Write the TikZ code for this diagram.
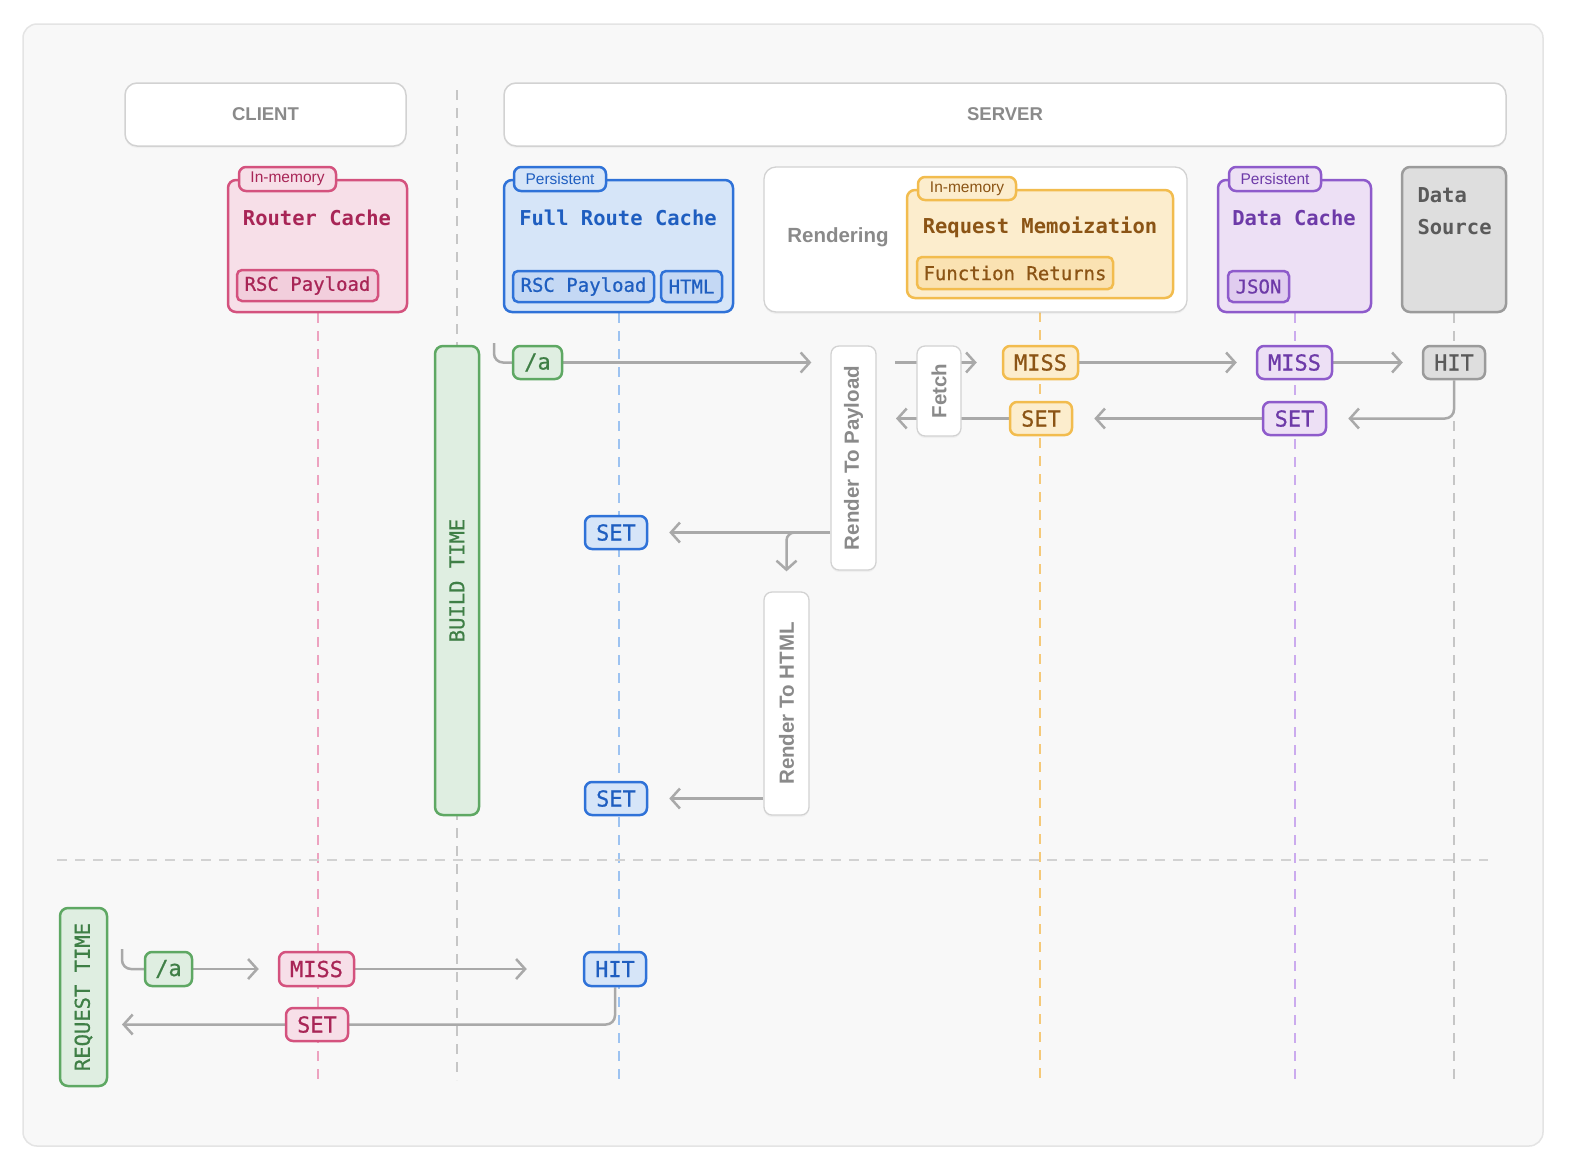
\documentclass[tikz,border=0pt]{standalone}
\usepackage{fontspec}
\setmainfont{Liberation Sans}
\newfontfamily\monof{DejaVu Sans Mono}
\newfontfamily\monom[FakeBold=0.7]{DejaVu Sans Mono}
\usetikzlibrary{arrows.meta,shadows}
\definecolor{pinkB}{HTML}{D4527E}\definecolor{pinkT}{HTML}{A82556}\definecolor{pinkF}{HTML}{F7DFE8}\definecolor{pinkI}{HTML}{F2CEDC}\definecolor{pinkL}{HTML}{EDA3C0}
\definecolor{blueB}{HTML}{2F72D8}\definecolor{blueT}{HTML}{1F5EC0}\definecolor{blueF}{HTML}{D6E5F8}\definecolor{blueI}{HTML}{C4D8F4}\definecolor{blueL}{HTML}{9DC3F1}
\definecolor{orB}{HTML}{F2BC4E}\definecolor{orT}{HTML}{8B5415}\definecolor{orF}{HTML}{FCEDCD}\definecolor{orI}{HTML}{FAE2B2}\definecolor{orL}{HTML}{F5C978}
\definecolor{puB}{HTML}{8E5BCB}\definecolor{puT}{HTML}{6D3AA8}\definecolor{puF}{HTML}{EDE0F5}\definecolor{puI}{HTML}{E0CCEF}\definecolor{puL}{HTML}{CBABEE}
\definecolor{grB}{HTML}{9B9B9B}\definecolor{grT}{HTML}{5A5A5A}\definecolor{grF}{HTML}{DEDEDE}\definecolor{grL}{HTML}{C6C6C6}
\definecolor{gnB}{HTML}{5EA863}\definecolor{gnT}{HTML}{3F7F46}\definecolor{gnF}{HTML}{DFEEE1}
\definecolor{connC}{HTML}{A9A9A9}
\definecolor{panelF}{HTML}{F8F8F8}\definecolor{panelB}{HTML}{E4E4E4}
\definecolor{hdrT}{HTML}{8A8A8A}\definecolor{hdrB}{HTML}{D2D2D2}
\newcommand\mtitle{\monof\bfseries\fontsize{20.5}{24}\selectfont}
\newcommand\minner{\monom\fontsize{19}{22}\selectfont}
\newcommand\mchip{\monom\fontsize{22}{26}\selectfont}
\newcommand\mvert{\monom\fontsize{20.5}{24}\selectfont}
\newcommand\tagf{\fontsize{15.5}{18}\selectfont}
\newcommand\sansb{\bfseries\fontsize{20.5}{24}\selectfont}
\pgfdeclarelayer{bg}\pgfdeclarelayer{conn}\pgfsetlayers{bg,conn,main}
\tikzset{
  cbox/.style={draw=#1B, fill=#1F, line width=2.5pt, rounded corners=8pt, inner sep=0pt},
  ibox/.style={draw=#1B, fill=#1I, line width=2.5pt, rounded corners=5pt, inner sep=0pt, text=#1T, font=\minner, minimum height=31pt},
  tagbox/.style={draw=#1B, fill=#1F, line width=2.5pt, rounded corners=7pt, inner sep=0pt, text=#1T, font=\tagf, minimum height=24pt},
  chip/.style={draw=#1B, fill=#1F, line width=2.5pt, rounded corners=7pt, inner sep=0pt, text=#1T, font=\mchip, minimum height=33pt},
  wbox/.style={draw=hdrB, fill=white, line width=1.3pt, rounded corners=8pt, inner sep=0pt, text=hdrT, font=\sansb,
     drop shadow={shadow xshift=0pt, shadow yshift=-2pt, opacity=0.07}},
  hbox/.style={draw=hdrB, fill=white, line width=1.5pt, rounded corners=12pt, inner sep=0pt, text=hdrT, font=\bfseries\fontsize{18.5}{22}\selectfont,
     drop shadow={shadow xshift=0pt, shadow yshift=-2pt, opacity=0.06}},
  life/.style={draw=#1, line width=2pt, dash pattern=on 10pt off 8pt},
  conn/.style={draw=connC, line width=2.5pt},
  arr/.style={-{Straight Barb[length=9pt,width=20pt]}},
}
\begin{document}
\begin{tikzpicture}[x=1pt,y=-1pt]
\useasboundingbox (0,0) rectangle (1570,1168);
\begin{pgfonlayer}{bg}
\fill[white] (0,0) rectangle (1570,1168);
\draw[fill=panelF, draw=panelB, line width=1.5pt, rounded corners=14pt] (23,24) rectangle (1543,1146);
\end{pgfonlayer}

% headers
\node[hbox, minimum width=281pt, minimum height=63pt] (client) at (265.5,114.5) {CLIENT};
\node[hbox, minimum width=1002pt, minimum height=63pt] (server) at (1005,114.5) {SERVER};

% Router Cache
\node[cbox=pink, minimum width=179pt, minimum height=132pt] (rc) at (317.5,246) {};
\node[tagbox=pink, minimum width=97pt] (rctag) at (287.5,179) {In-memory};
\node[text=pinkT, font=\mtitle] (rctitle) at (317,218) {Router Cache};
\node[ibox=pink, minimum width=141pt] (rcin) at (307.5,285.5) {RSC Payload};

% Full Route Cache
\node[cbox=blue, minimum width=229pt, minimum height=132pt] (frc) at (618.5,246) {};
\node[tagbox=blue, minimum width=92pt] (frctag) at (560,179) {Persistent};
\node[text=blueT, font=\mtitle] (frctitle) at (618,218) {Full Route Cache};
\node[ibox=blue, minimum width=141pt] (frcin1) at (583.5,286.5) {RSC Payload};
\node[ibox=blue, minimum width=61pt] (frcin2) at (691.5,286.5) {HTML};

% Rendering
\node[wbox, minimum width=423pt, minimum height=145pt, rounded corners=12pt] (rend) at (975.5,239.5) {};
\node[text=hdrT, font=\sansb] (rendt) at (838,237) {Rendering};
\node[cbox=or, minimum width=266pt, minimum height=108pt] (rm) at (1040,244) {};
\node[tagbox=or, minimum width=98pt, minimum height=23pt] (rmtag) at (967,188.5) {In-memory};
\node[text=orT, font=\mtitle] (rmtitle) at (1040,227) {Request Memoization};
\node[ibox=or, minimum width=196pt, minimum height=32pt] (rmin) at (1015,273) {Function Returns};

% Data Cache
\node[cbox=pu, minimum width=153pt, minimum height=132pt] (dc) at (1294.5,246) {};
\node[tagbox=pu, minimum width=92pt] (dctag) at (1275,179) {Persistent};
\node[text=puT, font=\mtitle] (dctitle) at (1294,218) {Data Cache};
\node[ibox=pu, minimum width=61pt] (dcin) at (1258.5,286.5) {JSON};

% Data Source
\node[cbox=gr, minimum width=104pt, minimum height=145pt] (ds) at (1454,239.5) {};
\node[text=grT, anchor=west, align=left, font=\monof\bfseries\fontsize{20.5}{32}\selectfont] (dst) at (1414,211) {Data\\Source};

% lifelines
\coordinate (lifeend) at (0,1080);
\begin{pgfonlayer}{bg}
\path[life=pinkL] (rc.south) -- (rc.south |- lifeend);
\path[life=grL] (457,90) -- (457,1080);
\path[life=blueL] (frc.south) -- (frc.south |- lifeend);
\path[life=orL] (1040,312) -- (1040,1080);
\path[life=puL] (dc.south) -- (dc.south |- lifeend);
\path[life=grL] (ds.south) -- (ds.south |- lifeend);
\path[life=hdrB] (57,860) -- (1488,860);
\end{pgfonlayer}

% build / request time
\node[cbox=gn, minimum width=44pt, minimum height=469pt] (bt) at (457,580.5) {};
\node[text=gnT, font=\mvert, rotate=90] (btt) at (457,580.5) {BUILD TIME};
\node[cbox=gn, minimum width=47pt, minimum height=178pt] (rt) at (83.5,997) {};
\node[text=gnT, font=\mvert, rotate=90] (rtt) at (83.5,997) {REQUEST TIME};

% row 1 / 2
\node[chip=gn, minimum width=49pt] (a1) at (537.5,362.5) {/a};
\node[wbox, minimum width=224pt, minimum height=45pt, rotate=90] (rtp) at (853.5,458) {Render To Payload};
\node[wbox, minimum width=90pt, minimum height=44pt, rotate=90] (fetch) at (939,391) {Fetch};
\node[chip=or, minimum width=75pt] (mo) at (1040.5,362.5) {MISS};
\node[chip=pu, minimum width=75pt] (mp) at (1294.5,362.5) {MISS};
\node[chip=gr, minimum width=62pt] (hit) at (1454,362.5) {HIT};
\node[chip=pu, minimum width=63pt] (sp) at (1294.5,418.5) {SET};
\node[chip=or, minimum width=62pt] (so) at (1041,418.5) {SET};
\node[chip=blue, minimum width=62pt] (sb1) at (616,532.5) {SET};
\node[wbox, minimum width=223pt, minimum height=45pt, rotate=90] (rth) at (786.5,703.5) {Render To HTML};
\node[chip=blue, minimum width=62pt] (sb2) at (616,798.5) {SET};

% bottom row
\node[chip=gn, minimum width=47pt, minimum height=34pt] (a2) at (168.5,969) {/a};
\node[chip=pink, minimum width=75pt, minimum height=34pt] (mk) at (316.5,969) {MISS};
\node[chip=blue, minimum width=62pt, minimum height=34pt] (hb) at (615,969) {HIT};
\node[chip=pink, minimum width=62pt] (sk) at (317,1024.5) {SET};

\coordinate (h1) at (494,343);
\coordinate (f1) at (895,362.5);
\coordinate (f2) at (896,418.5);
\coordinate (br) at (804,532.5);
\coordinate (h2) at (122,949);
\coordinate (e2) at (122,1024.5);

\begin{pgfonlayer}{conn}
\draw[conn, rounded corners=9pt] (h1) |- (a1.west);
\draw[conn, arr, shorten >=19pt] (a1.east) -- (a1.east -| rtp.north);
\draw[conn, arr, shorten >=25pt] (f1) -- (mo.west);
\draw[conn, arr, shorten >=19pt] (mo.east) -- (mp.west);
\draw[conn, arr, shorten >=19pt] (mp.east) -- (hit.west);
\draw[conn, arr, rounded corners=9pt, shorten >=21pt] (hit.south) |- (sp.east);
\draw[conn, arr, shorten >=21pt] (sp.west) -- (so.east);
\draw[conn, arr] (so.west) -- (f2);
\draw[conn, arr, shorten >=21pt] (rtp.north |- sb1) -- (sb1.east);
\draw[conn, arr, rounded corners=8pt, shorten >=20pt] (br) -| (rth.east);
\draw[conn, arr, shorten >=21pt] (rth.north |- sb2) -- (sb2.east);
\draw[conn, rounded corners=9pt] (h2) |- (a2.west);
\draw[conn, arr, shorten >=19pt] (a2.east) -- (mk.west);
\draw[conn, arr, shorten >=56pt] (mk.east) -- (hb.west);
\draw[conn, arr, rounded corners=9pt] (hb.south) |- (e2);
\end{pgfonlayer}
\end{tikzpicture}
\end{document}
